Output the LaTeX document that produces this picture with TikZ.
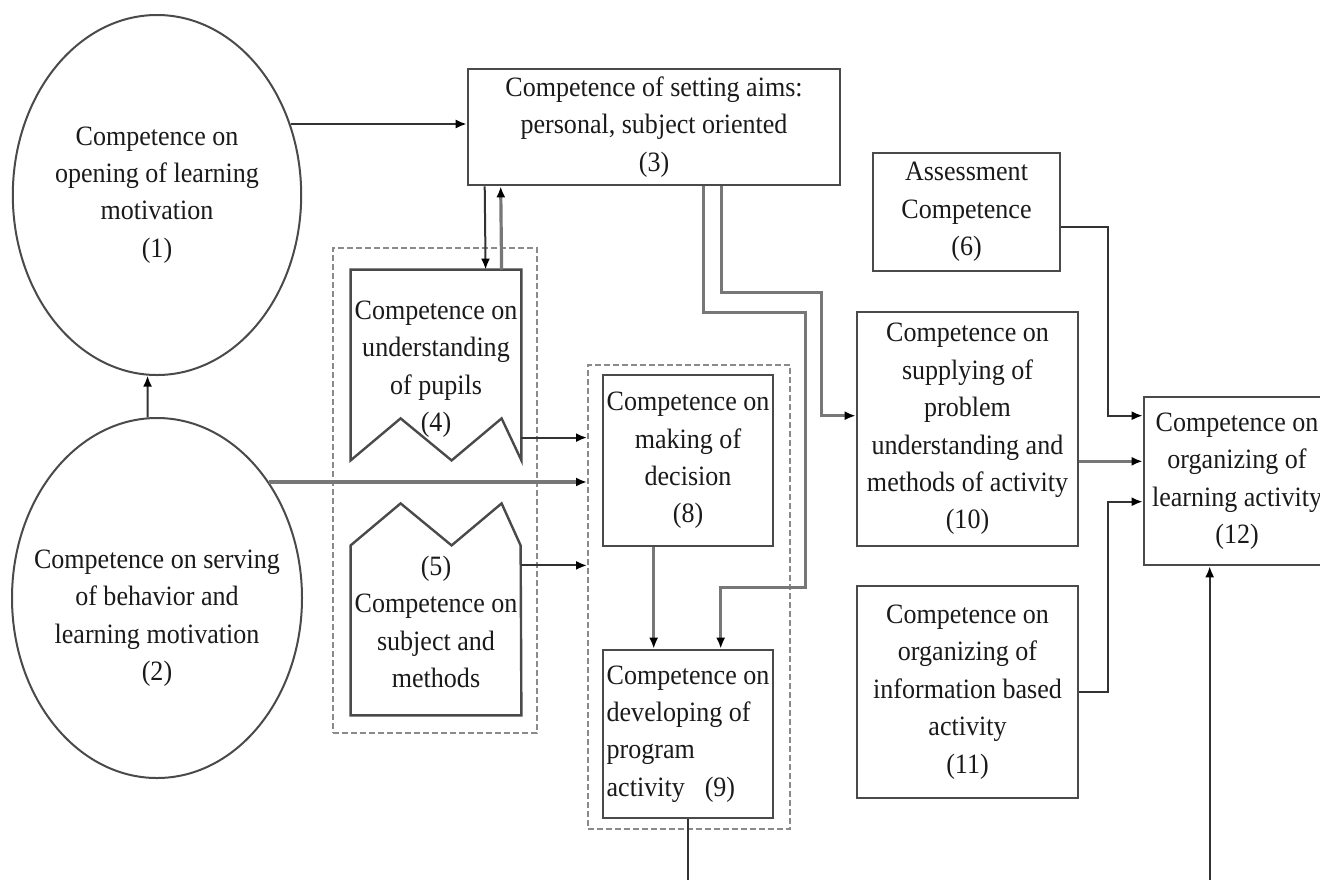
\documentclass[tikz,border=0pt]{standalone}
\usepackage{fontspec}
\setmainfont{Liberation Serif}[FakeStretch=0.93]
\usetikzlibrary{calc,arrows.meta,shapes.geometric}
\definecolor{ink}{HTML}{1A1A1A}
\definecolor{edgecol}{HTML}{4A4A4A}
\definecolor{wire}{HTML}{333333}
\definecolor{wiregray}{HTML}{777777}
\definecolor{dashcol}{HTML}{8A8A8A}
\begin{document}
\begin{tikzpicture}[x=0.5pt,y=-0.5pt,
  txt/.style={font=\fontsize{14pt}{18.7pt}\selectfont, text=ink, align=center},
  bx/.style n args={2}{txt, rectangle, draw=edgecol, line width=1.3pt,
     minimum width={#1*0.5pt}, minimum height={#2*0.5pt}, inner sep=0pt},
  area/.style n args={2}{rectangle, minimum width={#1*0.5pt}, minimum height={#2*0.5pt}, inner sep=0pt},
  grp/.style n args={2}{rectangle, draw=dashcol, line width=1pt, dash pattern=on 3pt off 1.5pt,
     minimum width={#1*0.5pt}, minimum height={#2*0.5pt}, inner sep=0pt},
  ell/.style={txt, ellipse, draw=edgecol, line width=1pt, minimum width={286*0.5pt},
     minimum height={360*0.5pt}, inner sep=0pt},
  shapeline/.style={draw=edgecol, line width=1.2pt},
  arr/.style={draw=wire, line width=1pt, -{Latex[length=5.5pt,width=4.5pt,color=black]}},
  arrg/.style={arr, draw=wiregray, line width=1.6pt},
  wireline/.style={draw=wire, line width=1pt}
]
\useasboundingbox[fill=white] (0,0) rectangle (1320,879);

% ellipses
\node[ell] (e1) at (157,195) {Competence on\\opening of learning\\motivation\\(1)};
\node[ell, minimum width={290*0.5pt}] (e2) at (157,598) {};
\node[txt] (e2t) at (157,618) {Competence on serving\\of behavior and\\learning motivation\\(2)};

% boxes
\node[bx={372}{116}] (b3) at (654,127) {Competence of setting aims:\\personal, subject oriented\\(3)};
\node[bx={187}{118}] (b6) at (966.5,212) {Assessment\\Competence\\(6)};
\node[bx={221}{234}] (b10) at (967.5,429) {Competence on\\supplying of\\problem\\understanding and\\methods of activity\\(10)};
\node[bx={221}{212}] (b11) at (967.5,692) {Competence on\\organizing of\\information based\\activity\\(11)};
\node[bx={186}{168}] (b12) at (1237,481) {Competence on\\organizing of\\learning activity\\(12)};
\node[bx={170}{171}] (b8) at (688,460.5) {Competence on\\making of\\decision\\(8)};
\node[bx={170}{168}, align=left] (b9) at (688,734)
  {Competence on\\developing of\\program\\activity\hspace{10pt}(9)};

% dashed groups
\node[grp={204}{485}] (g45) at (435,490.5) {};
\node[grp={202}{464}] (g89) at (689,597) {};

% box 4 (wavy bottom)
\node[area={170}{190}] (b4) at (436,365) {};
\draw[shapeline] (b4.north west) -- (b4.south west) -- ++(50,-42) -- ++(51,42) -- ++(50,-42)
  -- (b4.south east) -- (b4.north east) -- cycle;
\node[txt] (b4t) at (436,369) {Competence on\\understanding\\of pupils\\(4)};

% box 5 (wavy top)
\node[area={170}{212}] (b5) at (436,609) {};
\draw[shapeline] (b5.south west) -- ++(0,-170) -- ++(50,-42) -- ++(51,42) -- ++(50,-42)
  -- ++(19,42) -- (b5.south east) -- cycle;
\node[txt] (b5t) at (436,622) {(5)\\Competence on\\subject and\\methods};

% helper coordinates
\coordinate (bottomedge) at (0,885);
\coordinate (p4) at ($(b4.north east)+(0,168)$);
\coordinate (p5) at ($(b5.south east)+(0,-150)$);
\coordinate (q6) at ($(b12.north west)+(0,20)$);
\coordinate (q10) at ($(b10.south east)+(0,-86)$);
\coordinate (q11) at ($(b12.north west)+(0,106)$);
\coordinate (q12) at ($(b12.south west)+(67,0)$);

% connectors
\draw[arr] (e1.28.8) -- (e1.28.8 -| b3.west);
\draw[arr] (e2.93) -- (e1.267);
\draw[arr] ($(b3.south west)+(18,0)$) -- ($(b4.north west)+(135,0)$);
\draw[arrg] ($(b4.north west)+(151,0)$) -- ($(b3.south west)+(34,0)$);
\draw[arrg] ($(b3.south west)+(237,0)$) |- ++(102,126) |- ++(-85,275)
   -- ($(b9.north west)+(119,0)$);
\draw[arrg] ($(b3.south west)+(255,0)$) |- ++(100,106) |- ($(b10.north west)+(0,105)$);
\draw[arr] (p4) -- (p4 -| g89.west);
\draw[arrg] (e2.46.8) -- (e2.46.8 -| g89.west);
\draw[arr] (p5) -- (p5 -| g89.west);
\draw[arrg] ($(b8.south west)+(52,0)$) -- ($(b9.north west)+(52,0)$);
\draw[arr] ($(b6.east)+(0,15)$) -| ($(q6)+(-35,0)$) -- (q6);
\draw[arrg] (q10) -- (q10 -| b12.west);
\draw[arr] (b11.east) -| ($(q11)+(-35,0)$) -- (q11);
\draw[wireline] (b9.south) -- (b9.south |- bottomedge);
\draw[arr] (q12 |- bottomedge) -- (q12);
\end{tikzpicture}
\end{document}
